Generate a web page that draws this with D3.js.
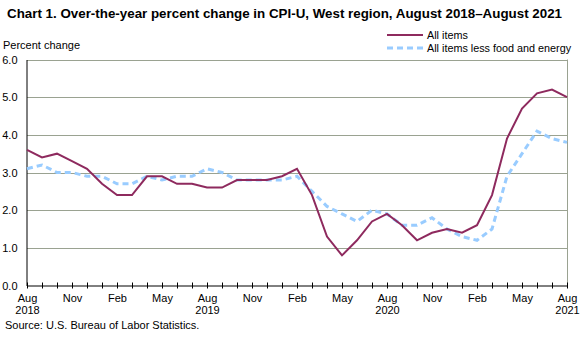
<!DOCTYPE html>
<html>
<head>
<meta charset="utf-8">
<script src="https://cdn.jsdelivr.net/npm/d3@7"></script>
<style>
  body { margin: 0; background: #fff; }
  svg { font-family: "Liberation Sans", Arial, sans-serif; }
</style>
</head>
<body>
<div id="chart"></div>
<script>
// Aug 2018 .. Aug 2021, monthly
var months = ["Aug","Sep","Oct","Nov","Dec","Jan","Feb","Mar","Apr","May","Jun","Jul",
              "Aug","Sep","Oct","Nov","Dec","Jan","Feb","Mar","Apr","May","Jun","Jul",
              "Aug","Sep","Oct","Nov","Dec","Jan","Feb","Mar","Apr","May","Jun","Jul","Aug"];
var allItems = [3.6,3.4,3.5,3.3,3.1,2.7,2.4,2.4,2.9,2.9,2.7,2.7,
                2.6,2.6,2.8,2.8,2.8,2.9,3.1,2.4,1.3,0.8,1.2,1.7,
                1.9,1.6,1.2,1.4,1.5,1.4,1.6,2.4,3.9,4.7,5.1,5.2,5.0];
var coreItems = [3.1,3.2,3.0,3.0,2.9,2.9,2.7,2.7,2.9,2.8,2.9,2.9,
                 3.1,3.0,2.8,2.8,2.8,2.8,2.9,2.5,2.1,1.9,1.7,2.0,
                 1.9,1.6,1.6,1.8,1.5,1.3,1.2,1.5,2.9,3.5,4.1,3.9,3.8];
var yTicks = [0,1,2,3,4,5,6];
var yearLabels = {0: "2018", 12: "2019", 24: "2020", 36: "2021"};

var w = 588, h = 337;
var plotLeft = 27, plotRight = 567, plotTop = 59.5, plotBottom = 285.5;

var svg = d3.select("#chart").append("svg")
  .attr("width", w).attr("height", h);

var x = d3.scaleLinear().domain([0, months.length - 1]).range([plotLeft, plotRight]);
var y = d3.scaleLinear().domain([0, 6]).range([plotBottom, plotTop]);

svg.append("text")
  .attr("x", 7).attr("y", 18)
  .attr("font-size", 12.6).attr("font-weight", "bold")
  .attr("textLength", 555).attr("lengthAdjust", "spacingAndGlyphs")
  .text("Chart 1. Over-the-year percent change in CPI-U, West region, August  2018\u2013August  2021");

svg.append("text")
  .attr("x", 3).attr("y", 49)
  .attr("font-size", 11)
  .text("Percent change");

// gridlines
svg.append("g").selectAll("line")
  .data(yTicks.filter(function(d){ return d > 0; }))
  .enter().append("line")
  .attr("x1", plotLeft).attr("x2", plotRight)
  .attr("y1", function(d){ return Math.round(y(d)) + 0.5; })
  .attr("y2", function(d){ return Math.round(y(d)) + 0.5; })
  .attr("stroke", "#9aa291").attr("stroke-width", 1);

// right border
svg.append("line")
  .attr("x1", plotRight + 0.5).attr("x2", plotRight + 0.5)
  .attr("y1", y(6)).attr("y2", plotBottom)
  .attr("stroke", "#9aa291");

// y axis
var yAxis = d3.axisLeft(y).tickValues(yTicks).tickSize(0).tickPadding(9)
  .tickFormat(d3.format(".1f"));
var gy = svg.append("g").attr("transform", "translate(" + (plotLeft - 0.5) + ",0)").call(yAxis);
gy.select(".domain").attr("stroke", "#000");
gy.selectAll("text").attr("font-size", 11).attr("fill", "#000")
  .attr("font-family", "Liberation Sans, Arial, sans-serif");

// x axis
var xAxis = d3.axisBottom(x).tickValues(d3.range(months.length))
  .tickSize(0).tickFormat("");
var gx = svg.append("g").attr("transform", "translate(0," + plotBottom + ")").call(xAxis);
gx.select(".domain").attr("stroke", "#000");
gx.selectAll(".tick").append("line")
  .attr("y1", -3).attr("y2", 3).attr("stroke", "#000");

gx.selectAll(".tick")
  .filter(function(d){ return d % 3 === 0; })
  .append("text")
  .attr("y", 16).attr("fill", "#000").attr("font-size", 11)
  .attr("font-family", "Liberation Sans, Arial, sans-serif")
  .text(function(d){ return months[d]; });

gx.selectAll(".tick")
  .filter(function(d){ return yearLabels[d] !== undefined; })
  .append("text")
  .attr("y", 28).attr("fill", "#000").attr("font-size", 11)
  .attr("font-family", "Liberation Sans, Arial, sans-serif")
  .text(function(d){ return yearLabels[d]; });

// lines
var line = d3.line()
  .x(function(d, i){ return x(i); })
  .y(function(d){ return y(d); });

svg.append("path").datum(coreItems)
  .attr("fill", "none").attr("stroke", "#99ccff")
  .attr("stroke-width", 3).attr("stroke-dasharray", "6,4")
  .attr("d", line);

svg.append("path").datum(allItems)
  .attr("fill", "none").attr("stroke", "#8e2a5e")
  .attr("stroke-width", 2)
  .attr("d", line);

// legend
var legend = [
  {name: "All items", color: "#8e2a5e", width: 2, dash: null, y: 35},
  {name: "All items less food and energy", color: "#99ccff", width: 3, dash: "6,4", y: 48}
];
var lg = svg.append("g").selectAll("g").data(legend).enter().append("g");
lg.append("line")
  .attr("x1", 387).attr("x2", 423)
  .attr("y1", function(d){ return d.y; }).attr("y2", function(d){ return d.y; })
  .attr("stroke", function(d){ return d.color; })
  .attr("stroke-width", function(d){ return d.width; })
  .attr("stroke-dasharray", function(d){ return d.dash; });
lg.append("text")
  .attr("x", 427).attr("y", function(d){ return d.y + 4; })
  .attr("font-size", 10.8)
  .text(function(d){ return d.name; });

svg.append("text")
  .attr("x", 5).attr("y", 329)
  .attr("font-size", 11)
  .text("Source: U.S. Bureau of Labor Statistics.");
</script>
</body>
</html>
